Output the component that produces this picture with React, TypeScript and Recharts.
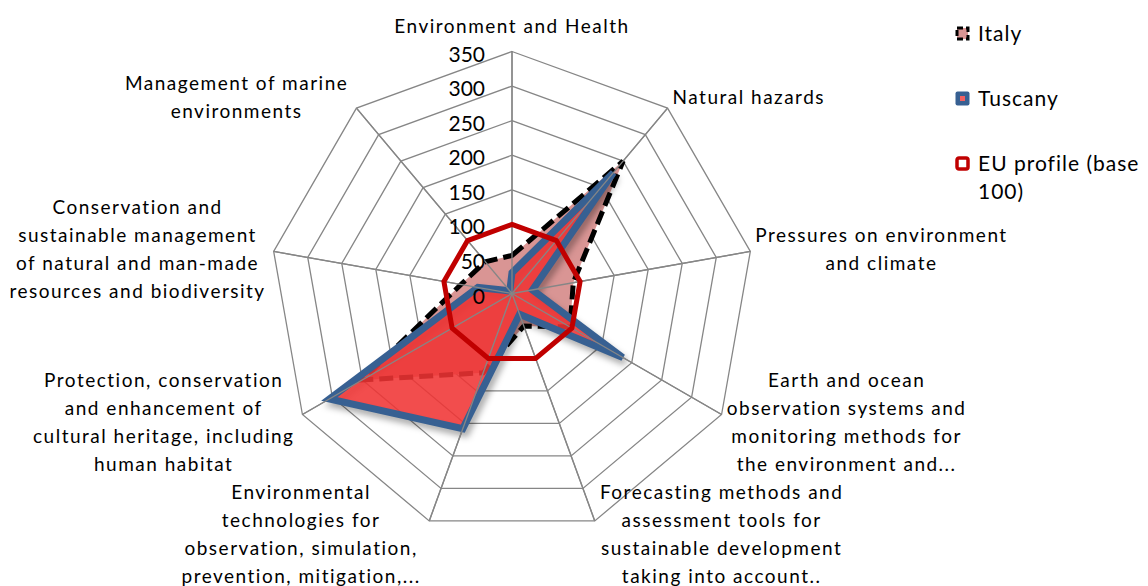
import { RadarChart, Radar, PolarGrid, PolarAngleAxis, PolarRadiusAxis, Legend } from 'recharts'

const categories = [
  'Environment and Health',
  'Natural hazards',
  'Pressures on environment\nand climate',
  'Earth and ocean\nobservation systems and\nmonitoring methods for\nthe environment and...',
  'Forecasting methods and\nassessment tools for\nsustainable development\ntaking into account..',
  'Environmental\ntechnologies for\nobservation, simulation,\nprevention, mitigation,...',
  'Protection, conservation\nand enhancement of\ncultural heritage, including\nhuman habitat',
  'Conservation and\nsustainable management\nof natural and man-made\nresources and biodiversity',
  'Management of marine\nenvironments',
]

const italy = [55, 250, 90, 97, 50, 122, 250, 75, 60]
const tuscany = [30, 228, 30, 185, 32, 208, 305, 50, 5]
const euProfile = [100, 100, 100, 100, 100, 100, 100, 100, 100]

const radiusTicks = [0, 50, 100, 150, 200, 250, 300, 350]

const data = categories.map((category, i) => ({
  category,
  italy: italy[i],
  tuscany: tuscany[i],
  eu: euProfile[i],
}))

const FONT = 'Lato, "Open Sans", sans-serif'
const OUTER = 242
const TICK_SIZE = 8
const LABEL_SIZE = 19
const LABEL_SPACING = 1.5
const LINE_H = 28
const GRID = '#868686'

let measureCtx: CanvasRenderingContext2D | null = null
function textWidth(s: string) {
  if (!measureCtx) measureCtx = document.createElement('canvas').getContext('2d')
  if (!measureCtx) return s.length * LABEL_SIZE * 0.5
  measureCtx.font = `${LABEL_SIZE}px Lato`
  return measureCtx.measureText(s).width + LABEL_SPACING * s.length
}

// category labels, laid out roughly like Excel does round a radar
function CategoryTick(props: any) {
  const { x, y, payload } = props
  const rad = (payload.coordinate * Math.PI) / 180
  const dx = Math.cos(rad)
  const dy = -Math.sin(rad)
  const vx = x - dx * TICK_SIZE
  const vy = y - dy * TICK_SIZE
  const lines = String(payload.value).split('\n')
  const w = Math.max(...lines.map(textWidth))
  const h = lines.length * LINE_H

  let tx = vx
  if (Math.abs(dx) >= 0.3) tx = dx > 0 ? vx + 5 + w / 2 : vx - 8 - w / 2
  const midY = Math.abs(dx) < 0.3 ? vy + dy * (h / 2 + 12) : vy + dy * 14
  const top = midY - h / 2

  return (
    <text
      textAnchor="middle"
      fontFamily={FONT}
      fontSize={LABEL_SIZE}
      letterSpacing={LABEL_SPACING}
      fill="#000"
    >
      {lines.map((l, i) => (
        <tspan key={i} x={tx} y={top + LINE_H * i + LINE_H / 2 + 7}>
          {l}
        </tspan>
      ))}
    </text>
  )
}

function RadiusTick(props: any) {
  const { x, y, payload } = props
  return (
    <text x={x - 27} y={y + 10} textAnchor="end" fontFamily={FONT} fontSize={21} fill="#000">
      {payload.value}
    </text>
  )
}

function TuscanyShape(props: any) {
  const pts = props.points.map((p: any) => `${p.x},${p.y}`).join(' ')
  return (
    <g>
      <defs>
        <filter id="tuscanyShadow" x="-20%" y="-20%" width="140%" height="140%">
          <feGaussianBlur stdDeviation="3" />
        </filter>
      </defs>
      <polygon
        points={pts}
        transform="translate(3,5)"
        fill="#000"
        fillOpacity={0.12}
        stroke="#000"
        strokeOpacity={0.3}
        strokeWidth={7}
        filter="url(#tuscanyShadow)"
      />
      <polygon
        points={pts}
        fill="#F43434"
        fillOpacity={0.86}
        stroke="#376092"
        strokeWidth={7}
        strokeLinejoin="miter"
        strokeMiterlimit={4}
      />
    </g>
  )
}

// EU line, with the spokes drawn under it but over the filled areas
function EuShape(props: any) {
  const pts = props.points.map((p: any) => `${p.x},${p.y}`).join(' ')
  return (
    <g>
      {props.points.map((p: any, i: number) => {
        const a = (-p.angle * Math.PI) / 180
        return (
          <line
            key={i}
            x1={p.cx}
            y1={p.cy}
            x2={p.cx + OUTER * Math.cos(a)}
            y2={p.cy + OUTER * Math.sin(a)}
            stroke={GRID}
            strokeWidth={1.3}
          />
        )
      })}
      <polygon points={pts} fill="none" stroke="#C00000" strokeWidth={5} strokeLinejoin="miter" />
    </g>
  )
}

function LegendIcon({ kind }: { kind: string }) {
  if (kind === 'italy')
    return (
      <svg width={15} height={15} style={{ marginRight: 8, flexShrink: 0 }}>
        <rect x={2} y={2} width={11} height={11} fill="#D99594" stroke="#000" strokeWidth={3} strokeDasharray="6 3" />
      </svg>
    )
  if (kind === 'tuscany')
    return (
      <svg width={15} height={15} style={{ marginRight: 8, flexShrink: 0 }}>
        <rect x={0.5} y={0.5} width={14} height={14} rx={2} fill="#376092" />
        <rect x={5} y={5} width={5} height={5} fill="#F26060" />
      </svg>
    )
  return (
    <svg width={15} height={15} style={{ marginRight: 8, flexShrink: 0 }}>
      <rect x={2} y={2} width={11} height={11} rx={2} fill="#fff" stroke="#C00000" strokeWidth={3.5} />
    </svg>
  )
}

const legendItems = [
  { kind: 'italy', lines: ['Italy'] },
  { kind: 'tuscany', lines: ['Tuscany'] },
  { kind: 'eu', lines: ['EU profile (base', '100)'] },
]

function renderLegend() {
  return (
    <div style={{ fontFamily: FONT, fontSize: 21, letterSpacing: 1.0, lineHeight: '28px', whiteSpace: 'nowrap' }}>
      {legendItems.map((it) => (
        <div key={it.kind} style={{ height: 65, display: 'flex', alignItems: 'flex-start' }}>
          <div style={{ height: 28, display: 'flex', alignItems: 'center' }}>
            <LegendIcon kind={it.kind} />
          </div>
          <div>
            {it.lines.map((l) => (
              <div key={l}>{l}</div>
            ))}
          </div>
        </div>
      ))}
    </div>
  )
}

export default function App() {
  return (
    <div style={{ width: 1140, height: 578, overflow: 'hidden', position: 'relative' }}>
      <RadarChart width={1140} height={578} data={data} cx={504} cy={285.5} outerRadius={OUTER}>
        <PolarGrid gridType="polygon" stroke={GRID} strokeWidth={1.3} />
        <Radar
          name="Italy"
          dataKey="italy"
          fill="#D99594"
          fillOpacity={1}
          stroke="#000"
          strokeWidth={5}
          strokeDasharray="14 6"
          dot={false}
          isAnimationActive={false}
        />
        <Radar name="Tuscany" dataKey="tuscany" shape={TuscanyShape} dot={false} isAnimationActive={false} />
        <Radar name="EU profile (base 100)" dataKey="eu" shape={EuShape} dot={false} isAnimationActive={false} />
        <PolarAngleAxis dataKey="category" tick={CategoryTick} tickSize={TICK_SIZE} axisLine={false} tickLine={false} />
        <PolarRadiusAxis
          angle={90}
          domain={[0, 350]}
          ticks={radiusTicks}
          tick={RadiusTick}
          axisLine={false}
          tickLine={false}
        />
        <Legend
          content={renderLegend}
          layout="vertical"
          align="right"
          verticalAlign="top"
          wrapperStyle={{ left: 947, top: 11, width: 190, right: 'auto' }}
        />
      </RadarChart>
    </div>
  )
}
